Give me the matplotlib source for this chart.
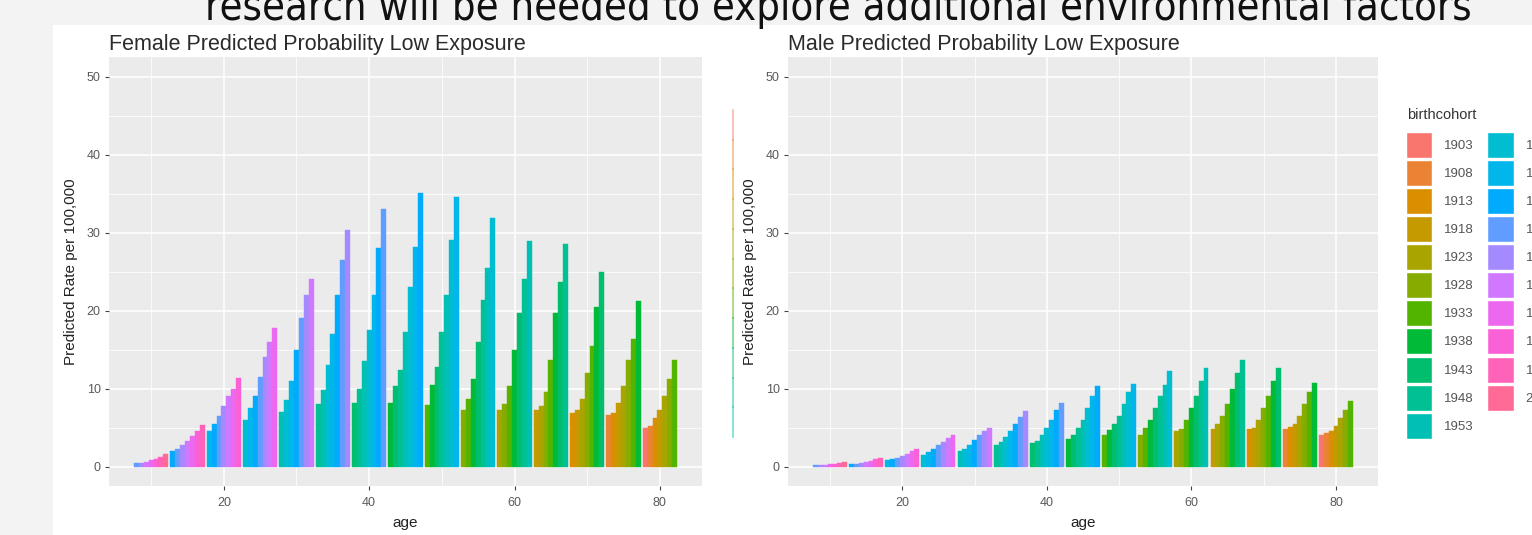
import numpy as np
import matplotlib
matplotlib.use("Agg")
import matplotlib.pyplot as plt
from matplotlib.patches import Patch, Rectangle
from matplotlib.lines import Line2D

# age groups on the x axis, 7 birth cohorts dodged inside each group
ages = [10, 15, 20, 25, 30, 35, 40, 45, 50, 55, 60, 65, 70, 75, 80]
cohorts = [1903, 1908, 1913, 1918, 1923, 1928, 1933, 1938, 1943, 1948, 1953,
           1958, 1963, 1968, 1973, 1978, 1983, 1988, 1993, 1998, 2003]
# oldest cohort shown in each age group (the next six follow every 5 years)
first_cohort = [1973, 1968, 1963, 1958, 1953, 1948, 1943, 1938, 1933, 1928,
                1923, 1918, 1913, 1908, 1903]

female_rates = [
    [0.4, 0.5, 0.6, 0.8, 1.0, 1.2, 1.6],
    [2.0, 2.3, 2.8, 3.3, 3.9, 4.6, 5.3],
    [4.5, 5.5, 6.5, 7.8, 9.0, 10.0, 11.3],
    [6.0, 7.5, 9.0, 11.5, 14.0, 16.0, 17.8],
    [7.0, 8.5, 11.0, 15.0, 19.0, 22.0, 24.0],
    [8.0, 9.8, 13.0, 17.0, 22.0, 26.5, 30.3],
    [8.2, 10.0, 13.5, 17.5, 22.0, 28.0, 33.0],
    [8.2, 10.3, 12.4, 17.2, 23.0, 28.2, 35.1],
    [7.9, 10.5, 12.7, 17.3, 22.0, 29.0, 34.6],
    [7.3, 8.6, 11.2, 15.9, 21.4, 25.5, 31.9],
    [7.2, 8.0, 10.3, 15.0, 19.7, 24.0, 28.9],
    [7.2, 7.8, 9.6, 13.7, 19.7, 23.6, 28.5],
    [6.8, 7.3, 8.6, 12.0, 15.4, 20.4, 24.9],
    [6.6, 6.9, 8.2, 10.3, 13.7, 16.3, 21.2],
    [5.0, 5.2, 6.2, 7.3, 9.0, 11.2, 13.6],
]

male_rates = [
    [0.15, 0.2, 0.25, 0.3, 0.35, 0.45, 0.6],
    [0.3, 0.35, 0.45, 0.55, 0.7, 0.9, 1.1],
    [0.8, 0.9, 1.1, 1.3, 1.6, 2.0, 2.3],
    [1.5, 1.8, 2.2, 2.7, 3.2, 3.7, 4.1],
    [2.0, 2.3, 2.8, 3.4, 4.0, 4.6, 5.0],
    [2.8, 3.2, 3.8, 4.6, 5.5, 6.4, 7.1],
    [3.0, 3.3, 4.0, 5.0, 6.0, 7.2, 8.2],
    [3.5, 4.0, 5.0, 6.0, 7.5, 9.0, 10.3],
    [4.0, 4.7, 5.5, 6.5, 8.0, 9.5, 10.6],
    [4.0, 5.0, 6.0, 7.5, 9.0, 10.5, 12.2],
    [4.5, 4.8, 6.0, 7.5, 9.0, 11.0, 12.6],
    [4.8, 5.5, 6.5, 8.0, 10.0, 12.0, 13.7],
    [4.8, 5.0, 6.0, 7.5, 9.0, 11.0, 12.6],
    [4.8, 5.1, 5.5, 6.5, 8.0, 9.5, 10.7],
    [4.0, 4.3, 4.5, 5.2, 6.2, 7.3, 8.4],
]


def hcl_hex(h, c=100.0, l=65.0):
    # polar LUV -> sRGB, same as R's hcl()
    hr = np.deg2rad(h)
    u, v = c * np.cos(hr), c * np.sin(hr)
    xn, yn, zn = 95.047, 100.0, 108.883
    d = xn + 15 * yn + 3 * zn
    un, vn = 4 * xn / d, 9 * yn / d
    Y = yn * ((l + 16) / 116) ** 3
    up, vp = u / (13 * l) + un, v / (13 * l) + vn
    X = Y * 9 * up / (4 * vp)
    Z = Y * (12 - 3 * up - 20 * vp) / (4 * vp)
    m = np.array([[3.2404542, -1.5371385, -0.4985314],
                  [-0.9692660, 1.8760108, 0.0415560],
                  [0.0556434, -0.2040259, 1.0572252]])
    rgb = m @ (np.array([X, Y, Z]) / 100)
    rgb = np.where(rgb <= 0.0031308, 12.92 * rgb, 1.055 * np.abs(rgb) ** (1 / 2.4) - 0.055)
    return tuple(np.clip(rgb, 0, 1))


n = len(cohorts)
palette = [hcl_hex(15 + 360 * i / n) for i in range(n)]

W, H = 1532, 535
plt.rcParams['font.family'] = ['Liberation Sans', 'DejaVu Sans']
fig = plt.figure(figsize=(W / 100, H / 100), dpi=100, facecolor='#F3F3F3')
fig.add_artist(Rectangle((53 / W, 0), 1 - 53 / W, 1 - 25 / H, transform=fig.transFigure,
                         facecolor='white', edgecolor='none', zorder=0))

# slide caption, cut off by the top edge of the screenshot
cap = fig.text(205 / W, 1 - 20 / H, "research will be needed to explore additional environmental factors",
               fontsize=30, color='#111111', va='baseline', ha='left',
               family='DejaVu Sans', fontstretch='condensed')
r = fig.canvas.get_renderer()
cap.set_fontsize(30 * 1265 / cap.get_window_extent(r).width)

group_w = 4.7


def draw_panel(ax, rates, title):
    ax.set_facecolor('#EBEBEB')
    bw = group_w / 7
    for age, first, vals in zip(ages, first_cohort, rates):
        xs = [age - group_w / 2 + (j + 0.5) * bw for j in range(7)]
        cols = [palette[cohorts.index(first + 5 * j)] for j in range(7)]
        ax.bar(xs, vals, width=bw, color=cols, edgecolor=cols, linewidth=0.3, zorder=3)
    ax.set_xlim(4.2, 85.8)
    ax.set_ylim(-2.5, 52.5)
    ax.set_xticks([20, 40, 60, 80])
    ax.set_xticks([10, 30, 50, 70], minor=True)
    ax.set_yticks([0, 10, 20, 30, 40, 50])
    ax.set_yticks([5, 15, 25, 35, 45], minor=True)
    ax.grid(which='major', color='white', linewidth=1.1, zorder=1)
    ax.grid(which='minor', color='white', linewidth=0.55, zorder=1)
    ax.set_axisbelow(True)
    for s in ax.spines.values():
        s.set_visible(False)
    ax.tick_params(which='major', length=3, width=0.8, color='#444444',
                   labelsize=9, labelcolor='#5A5A5A', pad=3)
    ax.tick_params(axis='x', which='major', pad=5)
    ax.tick_params(which='minor', length=0)
    ax.set_xlabel('age', fontsize=11, color='#222222', labelpad=5)
    ax.set_ylabel('Predicted Rate per 100,000', fontsize=11, color='#222222', labelpad=6)
    ax.set_title(title, loc='left', fontsize=15.5, color='#2B2B2B', pad=5)


ax1 = fig.add_axes([109 / W, 49 / H, 593 / W, 429 / H])
ax2 = fig.add_axes([788 / W, 49 / H, 590 / W, 429 / H])
draw_panel(ax1, female_rates, 'Female Predicted Probability Low Exposure')
draw_panel(ax2, male_rates, 'Male Predicted Probability Low Exposure')

# sliver of the left plot's cropped legend
seg = (437 - 110) / 11
for i in range(11):
    y0 = 1 - (110 + i * seg) / H
    y1 = 1 - (110 + (i + 1) * seg) / H
    fig.add_artist(Line2D([733 / W, 733 / W], [y0, y1], transform=fig.transFigure,
                          color=palette[i], alpha=0.55, linewidth=1.2))

# legend of the right plot (its second column is cut by the screenshot edge)
fig.text(1407 / W, 1 - 115 / H, 'birthcohort', fontsize=10.5, color='#333333',
         ha='left', va='center')
handles = [Patch(facecolor=palette[i], edgecolor='white', linewidth=1.0) for i in range(n)]
leg = fig.legend(handles, [str(c) for c in cohorts], ncol=2, loc='upper left',
                 bbox_to_anchor=(1406 / W, 1 - 132 / H), frameon=False, fontsize=9.5,
                 handlelength=2.0, handleheight=2.65, labelspacing=0.16,
                 handletextpad=0.9, columnspacing=1.0, borderpad=0, borderaxespad=0)
for t in leg.get_texts():
    t.set_color('#555555')

fig.savefig('out.png', dpi=100, facecolor=fig.get_facecolor())
